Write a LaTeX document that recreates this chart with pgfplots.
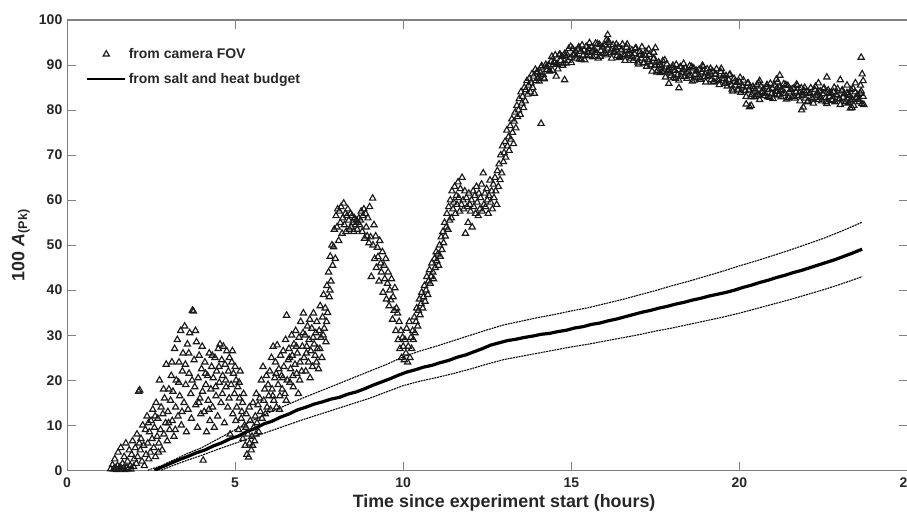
\documentclass[border=0pt]{standalone}
\usepackage{fontspec}
\setmainfont{Liberation Sans}
\usepackage{pgfplots}
\pgfplotsset{compat=1.18}
\begin{document}
\begin{tikzpicture}
\begin{axis}[
 at={(0,0)}, anchor=south west,
 scale only axis, width=630pt, height=337.5pt,
 xmin=0, xmax=25, ymin=0, ymax=100,
 xtick={0,5,...,25}, ytick={0,10,...,100},
 tick align=inside, major tick length=6.5pt,
 axis line style={black!50, line width=0.8pt},
 every tick/.style={black!50, line width=0.8pt},
 /pgf/number format/assume math mode=true,
 tick label style={font=\bfseries\fontsize{10.5}{12}\selectfont, text=black!85},
 xticklabel style={yshift=-2pt},
 label style={font=\bfseries\fontsize{13.4}{15}\selectfont, text=black!85},
 xlabel={Time since experiment start (hours)},
 ylabel={100 \textit{A}\textsubscript{(Pk)}},
 xlabel style={at={(ticklabel cs:0.52)}, anchor=north, yshift=2pt},
 legend style={draw=none, fill=none, at={(axis cs:0.45,95.0)}, anchor=north west, font=\bfseries\fontsize{10.5}{12}\selectfont, text=black!85, row sep=5.5pt},
 legend cell align=left,
 legend image code/.code={\draw[mark repeat=2,mark phase=2,#1] plot coordinates {(0cm,0cm) (0.5cm,0cm) (1cm,0cm)};},
]
\addplot[only marks, mark=triangle, mark size=2.7pt, mark options={fill=none, draw=black!90, line width=0.85pt}] coordinates {
(1.30,0.3)(1.35,1.2)(1.38,0.2)(1.42,2.5)(1.45,0.5)(1.48,0.1)(1.50,1.0)(1.52,4.0)(1.55,0.3)(1.58,0.8)(1.60,5.0)(1.62,0.2)(1.65,1.5)(1.68,0.4)(1.70,3.0)(1.72,0.1)(1.75,6.0)(1.78,0.6)(1.80,2.0)(1.82,0.3)(1.85,4.5)(1.88,1.0)(1.90,0.2)(1.92,3.5)(1.95,6.5)(1.98,0.8)(2.00,2.5)
(2.03,5.0)(2.06,1.5)(2.08,8.0)(2.10,3.0)(2.13,17.5)(2.16,17.8)(2.18,4.5)(2.20,7.0)(2.23,2.0)(2.25,10.0)(2.28,5.5)(2.30,1.0)(2.33,9.0)(2.35,3.5)(2.38,12.0)(2.40,6.0)(2.43,2.5)(2.45,8.5)(2.48,4.0)(2.50,11.0)(2.53,7.0)(2.55,13.5)(2.58,5.0)(2.60,9.5)(2.63,3.0)(2.65,15.0)(2.68,7.5)(2.70,11.5)(2.73,6.0)(2.75,20.0)(2.78,9.0)(2.80,14.0)(2.83,4.5)(2.85,12.5)(2.88,8.0)(2.90,16.0)(2.93,10.5)(2.95,23.5)(2.98,6.5)(3.00,13.0)
(3.03,18.0)(3.05,9.0)(3.08,15.5)(3.10,21.0)(3.13,11.0)(3.15,17.5)(3.18,7.5)(3.20,27.0)(3.23,14.0)(3.25,20.0)(3.28,29.0)(3.30,12.0)(3.33,24.0)(3.35,16.5)(3.38,31.0)(3.40,10.0)(3.43,22.0)(3.45,26.0)(3.48,15.0)(3.50,32.0)(3.53,19.0)(3.55,8.5)(3.58,28.0)(3.60,13.5)(3.63,21.5)(3.65,30.5)(3.68,17.0)(3.70,11.5)(3.73,35.5)(3.76,35.3)(3.78,24.5)(3.80,18.5)(3.83,14.5)(3.85,28.5)(3.88,9.5)(3.90,20.5)(3.93,25.5)(3.95,16.0)(3.98,12.5)(4.00,22.5)
(4.03,17.5)(4.05,2.2)(4.08,13.0)(4.10,24.0)(4.13,19.0)(4.15,8.5)(4.18,21.0)(4.20,15.5)(4.23,26.0)(4.25,11.0)(4.28,18.0)(4.30,23.0)(4.33,14.0)(4.35,20.5)(4.38,9.5)(4.40,25.0)(4.43,16.5)(4.45,22.0)(4.48,12.0)(4.50,27.0)(4.53,19.5)(4.55,28.0)(4.58,15.0)(4.60,24.5)(4.63,21.0)(4.65,27.5)(4.68,10.5)(4.70,23.5)(4.73,18.5)(4.75,26.5)(4.78,14.0)(4.80,22.0)(4.83,25.0)(4.85,8.0)(4.88,19.0)(4.90,24.0)(4.93,12.5)(4.95,21.5)(4.98,17.0)(5.00,23.0)
(5.03,20.0)(5.05,14.0)(5.08,18.5)(5.10,9.0)(5.13,16.0)(5.15,22.0)(5.18,11.5)(5.20,13.0)(5.23,7.0)(5.25,17.0)(5.28,10.0)(5.30,5.5)(5.33,12.5)(5.35,3.5)(5.38,8.0)(5.40,2.9)(5.43,6.0)(5.45,11.0)(5.48,4.5)(5.50,7.5)(5.53,15.0)(5.55,9.5)(5.58,6.5)(5.60,12.0)(5.63,17.0)(5.65,10.5)(5.68,14.5)(5.70,8.5)(5.73,16.0)(5.75,13.0)(5.78,20.0)(5.80,11.5)(5.83,23.0)(5.85,15.5)(5.88,18.0)(5.90,12.5)(5.93,21.0)(5.95,14.0)(5.98,19.0)(6.00,16.5)
(2.15,6.0)(2.42,10.5)(2.62,12.0)(2.72,4.0)(2.87,18.0)(3.02,10.5)(3.12,24.0)(3.22,9.0)(3.32,19.5)(3.42,13.0)(3.52,23.5)(3.62,26.0)(3.72,20.0)(3.82,31.0)(3.92,15.0)(4.02,27.5)(4.12,21.5)(4.22,13.5)(4.32,25.5)(4.42,18.5)(4.52,23.0)(4.62,17.0)(4.72,20.0)(4.82,16.0)(4.92,26.5)(5.02,11.0)(5.12,19.5)(5.22,15.0)(5.32,9.5)(5.42,14.0)(5.52,5.5)(5.62,8.0)
(6.03,22.0)(6.05,13.5)(6.08,25.0)(6.10,18.0)(6.13,27.5)(6.15,15.5)(6.18,20.5)(6.20,24.0)(6.23,14.0)(6.25,27.8)(6.28,19.0)(6.30,22.5)(6.33,16.5)(6.35,25.5)(6.38,21.0)(6.40,18.0)(6.43,26.5)(6.45,23.0)(6.48,17.0)(6.50,29.0)(6.53,34.4)(6.55,20.0)(6.58,24.5)(6.60,27.0)(6.63,19.5)(6.65,22.5)(6.68,30.0)(6.70,25.5)(6.73,18.5)(6.75,28.0)(6.78,23.5)(6.80,31.0)(6.83,21.5)(6.85,26.0)(6.88,17.0)(6.90,29.5)(6.93,24.0)(6.95,33.0)(6.98,22.0)(7.00,27.5)
(7.03,34.9)(7.05,25.0)(7.08,30.0)(7.10,22.0)(7.13,27.5)(7.15,32.0)(7.18,24.0)(7.20,29.0)(7.23,20.5)(7.25,26.5)(7.28,31.5)(7.30,23.0)(7.33,34.9)(7.35,28.0)(7.38,25.5)(7.40,30.5)(7.43,33.0)(7.45,27.0)(7.48,22.5)(7.50,31.0)(7.53,36.5)(7.55,29.5)(7.58,25.0)(7.60,34.0)(7.63,39.0)(7.65,31.5)(7.68,36.0)(7.70,28.5)(7.73,41.0)(7.75,35.0)(7.78,44.0)(7.80,38.5)(7.83,47.5)(7.85,42.0)(7.88,50.0)(7.90,45.5)(7.93,49.6)(7.95,53.5)(7.98,47.0)(8.00,56.5)
(6.12,16.5)(6.22,21.5)(6.32,13.5)(6.42,20.5)(6.52,15.5)(6.62,25.0)(6.72,21.0)(6.82,27.5)(6.92,20.0)(7.02,30.5)(7.12,26.0)(7.22,33.5)(7.32,29.5)(7.42,24.0)(7.52,27.0)(7.62,30.0)(7.72,33.0)(7.82,40.0)
(8.03,54.0)(8.05,58.0)(8.08,51.0)(8.10,57.5)(8.13,55.0)(8.15,58.5)(8.18,52.6)(8.20,56.0)(8.23,59.3)(8.25,54.5)(8.28,57.0)(8.30,53.0)(8.33,56.5)(8.35,58.0)(8.38,55.5)(8.40,53.5)(8.43,57.0)(8.45,54.0)(8.48,56.5)(8.50,55.0)(8.53,53.0)(8.55,56.0)(8.58,54.5)(8.60,55.5)(8.63,53.5)(8.65,55.0)(8.68,56.0)(8.70,54.5)(8.73,55.5)(8.75,57.5)(8.78,53.0)(8.80,56.5)(8.83,58.0)(8.85,51.5)(8.88,57.0)(8.90,54.0)(8.93,52.0)(8.95,56.0)(8.98,50.5)(9.00,58.5)
(9.03,51.8)(9.05,43.0)(9.09,60.4)(9.10,50.0)(9.13,54.5)(9.15,47.0)(9.18,52.0)(9.20,45.0)(9.23,49.5)(9.25,47.4)(9.28,42.0)(9.30,51.0)(9.33,46.0)(9.35,44.0)(9.38,48.5)(9.40,39.5)(9.43,45.5)(9.45,42.5)(9.48,47.0)(9.50,38.0)(9.53,41.5)(9.55,44.0)(9.58,36.5)(9.60,40.0)(9.63,37.8)(9.65,42.5)(9.68,33.5)(9.70,38.5)(9.73,35.5)(9.75,40.5)(9.78,31.0)(9.80,36.0)(9.83,34.9)(9.85,29.0)(9.88,33.0)(9.90,27.0)(9.93,31.0)(9.95,25.0)(9.98,29.5)(10.00,27.5)
(10.03,24.5)(10.05,29.0)(10.08,26.0)(10.10,31.5)(10.13,24.0)(10.15,27.5)(10.18,33.0)(10.20,25.0)(10.23,29.5)(10.25,27.0)(10.28,31.0)(10.30,29.0)(10.33,34.0)(10.35,30.5)(10.38,33.0)(10.40,36.0)(10.43,32.0)(10.45,35.5)(10.48,38.0)(10.50,34.5)(10.53,37.0)(10.55,39.5)(10.58,36.0)(10.60,38.5)(10.63,41.0)(10.65,37.5)(10.68,40.0)(10.70,43.0)(10.73,39.0)(10.75,42.0)(10.78,44.5)(10.80,41.5)(10.83,43.0)(10.85,46.0)(10.88,44.0)(10.90,42.5)(10.93,47.0)(10.95,45.0)(10.98,48.5)(11.00,46.5)
(11.03,48.0)(11.05,45.5)(11.08,50.0)(11.10,47.5)(11.13,51.8)(11.15,49.0)(11.18,53.0)(11.20,50.5)(11.23,55.0)(11.25,52.0)(11.28,54.0)(11.30,57.0)(11.33,53.5)(11.35,58.5)(11.38,55.5)(11.40,60.0)(11.43,56.0)(11.45,62.0)(11.48,58.0)(11.50,59.5)(11.53,63.0)(11.55,57.0)(11.58,61.0)(11.60,59.0)(11.63,64.0)(11.65,60.5)(11.68,57.5)(11.70,62.5)(11.73,59.0)(11.75,65.0)(11.78,60.0)(11.80,58.0)(11.83,62.0)(11.85,52.6)(11.88,60.5)(11.90,58.5)(11.93,55.0)(11.95,61.5)(11.98,59.0)(12.00,57.5)
(12.03,60.0)(12.05,54.0)(12.08,62.0)(12.10,58.5)(12.13,61.0)(12.15,57.0)(12.18,63.0)(12.20,59.5)(12.23,56.5)(12.25,61.5)(12.28,58.0)(12.30,60.5)(12.33,63.5)(12.35,57.5)(12.38,66.0)(12.40,59.0)(12.43,61.5)(12.45,58.5)(12.48,62.5)(12.50,60.0)(12.53,57.0)(12.55,61.0)(12.58,64.4)(12.60,59.5)(12.63,62.0)(12.65,58.0)(12.68,63.5)(12.70,60.5)(12.73,65.0)(12.75,62.0)(12.78,59.0)(12.80,66.5)(12.83,63.0)(12.85,68.0)(12.88,64.5)(12.90,70.0)(12.93,66.0)(12.95,72.0)(12.98,68.5)(13.00,70.5)
(13.03,73.0)(13.05,69.5)(13.08,75.5)(13.10,72.0)(13.13,74.0)(13.15,71.0)(13.18,76.5)(13.20,73.5)(13.23,78.0)(13.25,75.0)(13.28,72.5)(13.30,77.5)(13.33,79.5)(13.35,76.0)(13.38,81.0)(13.40,78.5)(13.43,80.0)(13.45,82.5)(13.48,79.0)(13.50,84.0)(13.53,81.5)(13.55,83.0)(13.58,80.5)(13.60,85.0)(13.63,82.0)(13.65,84.5)(13.68,86.5)(13.70,83.5)(13.73,85.5)(13.75,87.0)(13.78,84.0)(13.80,86.0)(13.83,88.0)(13.85,85.0)(13.88,87.5)(13.90,83.7)(13.93,89.0)(13.95,86.5)(13.98,88.5)(14.00,87.0)(14.10,77.0)
(14.00,88.4)(14.04,86.4)(14.08,88.3)(14.12,89.8)(14.16,87.9)(14.20,86.9)(14.24,90.1)(14.28,89.0)(14.32,90.0)(14.36,88.7)(14.40,90.8)(14.44,88.8)(14.48,90.7)(14.52,92.2)(14.56,90.1)(14.60,89.1)(14.64,92.2)(14.68,91.0)(14.72,91.9)(14.76,90.4)(14.80,92.5)(14.84,90.4)(14.88,92.2)(14.92,93.6)(14.96,91.6)(14.80,86.7)(14.55,87.5)
(15.00,90.5)(15.04,93.6)(15.08,92.2)(15.12,93.1)(15.16,91.5)(15.20,93.5)(15.24,91.3)(15.28,93.0)(15.32,94.4)(15.36,92.2)(15.40,91.1)(15.44,94.1)(15.48,92.8)(15.52,93.6)(15.56,92.1)(15.60,94.0)(15.64,91.8)(15.68,93.5)(15.72,94.8)(15.76,92.7)(15.80,91.5)(15.84,94.5)(15.88,93.2)(15.92,94.0)(15.96,92.5)
(16.00,94.4)(16.04,92.2)(16.08,93.7)(16.12,95.0)(16.16,92.7)(16.20,91.5)(16.24,94.5)(16.28,93.0)(16.32,93.8)(16.36,92.1)(16.40,94.0)(16.44,91.8)(16.48,93.3)(16.52,94.6)(16.56,92.3)(16.60,91.0)(16.64,93.9)(16.68,92.4)(16.72,93.2)(16.76,91.5)(16.80,93.3)(16.84,91.0)(16.88,92.5)(16.92,93.8)(16.96,91.5)(16.08,96.7)(16.04,95.5)
(17.00,90.2)(17.04,93.0)(17.08,91.5)(17.12,92.1)(17.16,90.4)(17.20,92.1)(17.24,89.7)(17.28,91.2)(17.32,92.3)(17.36,90.0)(17.40,88.6)(17.44,91.4)(17.48,89.9)(17.52,90.5)(17.56,88.8)(17.60,90.6)(17.64,88.3)(17.68,89.8)(17.72,90.9)(17.76,88.6)(17.80,87.3)(17.84,90.2)(17.88,88.7)(17.92,89.3)(17.96,87.6)
(17.10,94.0)(17.30,93.5)(17.50,93.8)(17.45,92.8)(17.90,85.9)(18.20,84.9)
(18.00,89.4)(18.04,87.2)(18.08,88.8)(18.12,90.1)(18.16,87.8)(18.20,86.6)(18.24,89.6)(18.28,88.2)(18.32,89.0)(18.36,87.4)(18.40,89.3)(18.44,87.0)(18.48,88.6)(18.52,89.8)(18.56,87.6)(18.60,86.4)(18.64,89.3)(18.68,87.9)(18.72,88.7)(18.76,87.1)(18.80,89.0)(18.84,86.8)(18.88,88.4)(18.92,89.6)(18.96,87.4)
(19.00,86.2)(19.04,89.1)(19.08,87.7)(19.12,88.4)(19.16,86.7)(19.20,88.6)(19.24,86.3)(19.28,87.9)(19.32,89.1)(19.36,86.8)(19.40,85.6)(19.44,88.5)(19.48,87.0)(19.52,87.7)(19.56,85.9)(19.60,87.6)(19.64,85.3)(19.68,86.7)(19.72,87.9)(19.76,85.5)(19.80,84.2)(19.84,87.0)(19.88,85.5)(19.92,86.1)(19.96,84.4)
(20.00,86.2)(20.04,83.9)(20.08,85.4)(20.12,86.6)(20.16,84.3)(20.20,83.0)(20.24,85.9)(20.28,84.4)(20.32,85.1)(20.36,83.4)(20.40,85.2)(20.44,82.9)(20.48,84.4)(20.52,85.6)(20.56,83.4)(20.60,82.3)(20.64,85.3)(20.68,83.9)(20.72,84.7)(20.76,83.2)(20.80,85.1)(20.84,82.9)(20.88,84.5)(20.92,85.9)(20.96,83.7)
(20.30,80.7)(20.35,81.0)(20.20,81.3)(21.20,87.7)(21.10,86.8)(20.60,86.5)
(21.00,82.5)(21.04,85.5)(21.08,84.1)(21.12,84.9)(21.16,83.3)(21.20,85.1)(21.24,82.9)(21.28,84.5)(21.32,85.8)(21.36,83.6)(21.40,82.4)(21.44,85.4)(21.48,84.0)(21.52,84.5)(21.56,82.9)(21.60,84.8)(21.64,82.6)(21.68,84.1)(21.72,85.4)(21.76,83.2)(21.80,82.0)(21.84,84.9)(21.88,83.5)(21.92,84.3)(21.96,82.6)
(21.85,80.0)(21.90,80.6)
(22.00,84.2)(22.04,82.0)(22.08,83.6)(22.12,84.9)(22.16,82.7)(22.20,81.5)(22.24,84.5)(22.28,83.1)(22.32,83.9)(22.36,82.3)(22.40,84.2)(22.44,82.0)(22.48,83.6)(22.52,84.9)(22.56,82.7)(22.60,81.4)(22.64,84.4)(22.68,83.0)(22.72,83.8)(22.76,82.1)(22.80,84.0)(22.84,81.8)(22.88,83.4)(22.92,84.7)(22.96,82.4)
(22.60,87.3)(22.35,86.0)(23.00,86.7)(23.30,80.4)(23.35,80.5)
(23.00,81.2)(23.04,84.2)(23.08,82.8)(23.12,83.6)(23.16,81.9)(23.20,83.8)(23.24,81.6)(23.28,83.2)(23.32,84.5)(23.36,82.3)(23.40,81.0)(23.44,84.0)(23.48,82.6)(23.52,83.4)(23.56,81.8)(23.60,83.7)(23.64,81.4)(23.68,83.0)
(23.62,91.7)(23.65,88.0)(23.68,86.5)(23.60,85.5)(23.45,86.0)(23.20,85.5)
(14.02,87.1)(14.10,89.5)(14.18,87.1)(14.26,89.6)(14.34,88.6)(14.42,91.9)(14.50,90.5)(14.58,90.3)(14.66,92.4)(14.74,89.9)(14.82,92.1)(14.90,91.0)(14.98,94.1)
(15.06,92.4)(15.14,92.0)(15.22,94.0)(15.30,91.2)(15.38,93.3)(15.46,92.0)(15.54,94.9)(15.62,93.1)(15.70,92.7)(15.78,94.7)(15.86,91.9)(15.94,94.0)
(16.02,92.6)(16.10,95.3)(16.18,93.3)(16.26,92.8)(16.34,94.6)(16.42,91.6)(16.50,93.5)(16.58,92.0)(16.66,94.6)(16.74,92.5)(16.82,91.9)(16.90,93.6)(16.98,90.6)
(17.06,92.3)(17.14,90.5)(17.22,93.0)(17.30,90.8)(17.38,90.0)(17.46,91.5)(17.54,88.4)(17.62,90.1)(17.70,88.5)(17.78,91.1)(17.86,88.9)(17.94,88.2)
(18.02,89.9)(18.10,87.0)(18.18,89.0)(18.26,87.5)(18.34,90.3)(18.42,88.4)(18.50,87.7)(18.58,89.6)(18.66,86.6)(18.74,88.6)(18.82,87.2)(18.90,89.9)(18.98,88.0)
(19.06,87.4)(19.14,89.2)(19.22,86.2)(19.30,88.0)(19.38,86.5)(19.46,89.2)(19.54,87.0)(19.62,86.2)(19.70,87.8)(19.78,84.6)(19.86,86.3)(19.94,84.6)
(20.02,87.2)(20.10,85.1)(20.18,84.3)(20.26,86.0)(20.34,82.9)(20.42,84.7)(20.50,83.1)(20.58,86.0)(20.66,84.1)(20.74,83.7)(20.82,85.6)(20.90,82.8)(20.98,84.8)
(21.06,83.4)(21.14,86.2)(21.22,84.3)(21.30,83.7)(21.38,85.6)(21.46,82.7)(21.54,84.5)(21.62,83.0)(21.70,85.7)(21.78,83.8)(21.86,83.2)(21.94,85.0)
(22.02,81.8)(22.10,83.8)(22.18,82.4)(22.26,85.2)(22.34,83.3)(22.42,82.8)(22.50,84.7)(22.58,81.8)(22.66,83.7)(22.74,82.3)(22.82,85.0)(22.90,83.1)(22.98,82.5)
(23.06,84.4)(23.14,81.5)(23.22,83.4)(23.30,82.0)(23.38,84.8)(23.46,82.8)(23.54,82.3)(23.62,84.2)(23.70,81.2)
};
\addlegendentry{from camera FOV}
\addlegendimage{black, line width=1.3pt}
\addlegendentry{from salt and heat budget}
% upper band
\addplot[forget plot, black, line width=0.8pt, dash pattern=on 1.5pt off 0.6pt] coordinates {
(2.40,0.0)(2.8,1.0)(3.2,2.4)(3.6,3.8)(4.0,5.0)(4.5,7.0)(5.0,9.0)(5.5,11.0)(6.0,12.8)(6.5,14.4)(7.0,16.0)(7.5,17.5)(8.0,19.0)(8.5,20.5)(9.0,22.0)(9.5,23.5)(10.0,25.2)(10.5,26.5)(11.0,27.6)(11.5,28.8)(12.0,30.0)(12.5,31.2)(13.0,32.3)(13.5,33.1)(14.0,33.9)(14.5,34.6)(15.0,35.4)(15.5,36.1)(16.0,37.0)(16.5,37.9)(17.0,38.9)(17.5,39.9)(18.0,41.0)(18.5,42.0)(19.0,43.1)(19.5,44.2)(20.0,45.4)(20.5,46.5)(21.0,47.7)(21.5,48.9)(22.0,50.2)(22.5,51.5)(23.0,53.0)(23.5,54.6)(23.65,55.1)
};
% lower band
\addplot[forget plot, black, line width=0.8pt, dash pattern=on 1.5pt off 0.6pt] coordinates {
(2.80,0.0)(3.2,1.2)(3.6,2.3)(4.0,3.3)(4.5,4.7)(5.0,6.0)(5.5,7.3)(6.0,8.6)(6.5,9.9)(7.0,11.2)(7.5,12.4)(8.0,13.6)(8.5,14.8)(9.0,16.0)(9.5,17.4)(10.0,18.8)(10.5,19.8)(11.0,20.6)(11.5,21.5)(12.0,22.5)(12.5,23.6)(13.0,24.6)(13.5,25.3)(14.0,26.0)(14.5,26.7)(15.0,27.4)(15.5,28.0)(16.0,28.7)(16.5,29.4)(17.0,30.1)(17.5,30.9)(18.0,31.6)(18.5,32.4)(19.0,33.2)(19.5,34.0)(20.0,34.9)(20.5,35.9)(21.0,36.9)(21.5,37.9)(22.0,39.0)(22.5,40.1)(23.0,41.3)(23.5,42.6)(23.65,43.0)
};
% central
\addplot[forget plot, black, line width=2.4pt] coordinates {
(2.60,0.0)(2.85,0.8)(3.10,1.6)(3.35,2.4)(3.60,3.1)(3.85,3.9)(4.10,4.5)(4.35,5.4)(4.60,6.1)(4.85,7.0)(5.10,7.6)(5.35,8.6)(5.60,9.3)(5.85,10.3)(6.10,10.9)(6.35,11.8)(6.60,12.5)(6.85,13.4)(7.10,14.0)(7.35,14.7)(7.60,15.2)(7.85,15.8)(8.10,16.2)(8.35,16.9)(8.60,17.4)(8.85,18.1)(9.10,18.9)(9.35,19.6)(9.60,20.3)(9.85,21.1)(10.10,21.8)(10.35,22.3)(10.60,22.9)(10.85,23.3)(11.10,23.9)(11.35,24.4)(11.60,25.1)(11.85,25.6)(12.10,26.3)(12.35,27.0)(12.60,27.8)(12.85,28.3)(13.10,28.8)(13.35,29.1)(13.60,29.5)(13.85,29.8)(14.10,30.2)(14.35,30.4)(14.60,30.8)(14.85,31.1)(15.10,31.6)(15.35,31.9)(15.60,32.4)(15.85,32.7)(16.10,33.2)(16.35,33.6)(16.60,34.1)(16.85,34.6)(17.10,35.1)(17.35,35.5)(17.60,36.0)(17.85,36.4)(18.10,36.9)(18.35,37.3)(18.60,37.8)(18.85,38.2)(19.10,38.7)(19.35,39.1)(19.60,39.5)(19.85,40.0)(20.10,40.6)(20.35,41.1)(20.60,41.7)(20.85,42.2)(21.10,42.8)(21.35,43.3)(21.60,43.9)(21.85,44.4)(22.10,45.0)(22.35,45.6)(22.60,46.2)(22.85,46.8)(23.10,47.5)(23.35,48.2)(23.65,49.1)
};
\end{axis}
\pgfresetboundingbox
\useasboundingbox (-50.25pt,-33.75pt) rectangle (629.6pt,352.5pt);
\end{tikzpicture}
\end{document}
